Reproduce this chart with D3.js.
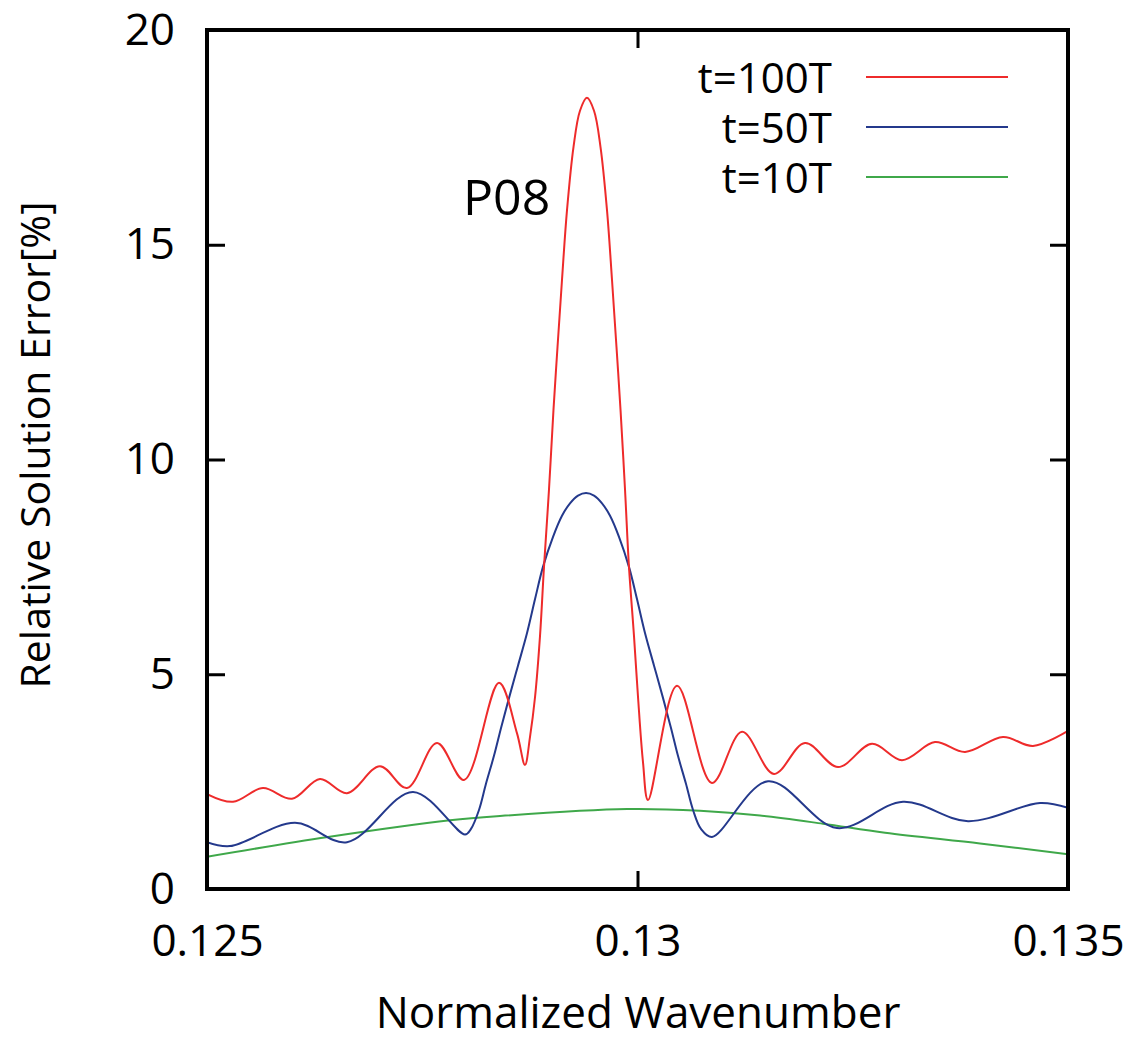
<!DOCTYPE html>
<html>
<head>
<meta charset="utf-8">
<script src="https://cdn.jsdelivr.net/npm/d3@7"></script>
<style>
  html, body { margin: 0; padding: 0; background: #fff; }
  svg { display: block; font-family: "Open Sans", sans-serif; }
</style>
</head>
<body>
<svg id="chart" width="1138" height="1041"></svg>
<script>
// ---- data ----
const xTicks = [0.125, 0.13, 0.135];
const xTickLabels = ["0.125", "0.13", "0.135"];
const yTicks = [0, 5, 10, 15, 20];
const yTickLabels = ["0", "5", "10", "15", "20"];

const seriesNames = ["t=100T", "t=50T", "t=10T"];

const red_x = [0.125, 0.125302, 0.125650, 0.125987, 0.126312, 0.126626, 0.127009, 0.127323, 0.127671, 0.127985,
  0.128391, 0.128600, 0.128693, 0.128752, 0.128810, 0.128868, 0.128914, 0.128972, 0.129024, 0.129071, 0.129123,
  0.129181, 0.129257, 0.129332, 0.129413, 0.129495, 0.129570, 0.129646, 0.129704, 0.129756, 0.129803,
  0.129855, 0.129901, 0.129959, 0.130006, 0.130064, 0.130122, 0.130459, 0.130865,
  0.131214, 0.131585, 0.131945, 0.132329, 0.132724, 0.133072, 0.133455, 0.133804, 0.134245, 0.134593, 0.135];
const red_y = [2.21, 2.03, 2.35, 2.10, 2.56, 2.23, 2.86, 2.35, 3.40, 2.54,
  4.80, 3.63, 2.89, 3.55, 4.47, 5.90, 7.50, 9.30, 11.15, 12.62, 14.18,
  15.80, 17.28, 18.12, 18.42, 18.12, 17.28, 15.80, 14.18, 12.62, 11.15,
  9.30, 7.50, 5.90, 4.47, 2.95, 2.07, 4.73, 2.47,
  3.66, 2.68, 3.40, 2.84, 3.38, 3.00, 3.42, 3.19, 3.54, 3.33, 3.68];

const blue_x = [0.125, 0.125267, 0.126022, 0.126626, 0.127393, 0.127997, 0.128066, 0.128159, 0.128240, 0.128333,
  0.128415, 0.128508, 0.128612, 0.128717, 0.128810, 0.128902, 0.129019, 0.129123, 0.129216, 0.129309,
  0.129402, 0.129495, 0.129588, 0.129681, 0.129785, 0.129901, 0.129994, 0.130087, 0.130192, 0.130296,
  0.130389, 0.130470, 0.130563, 0.130645, 0.130737, 0.130865, 0.131516, 0.132317, 0.133084, 0.133839, 0.134675, 0.135];
const blue_y = [1.09, 1.00, 1.54, 1.09, 2.26, 1.27, 1.40, 1.84, 2.45, 3.10,
  3.75, 4.45, 5.20, 5.96, 6.75, 7.50, 8.20, 8.69, 8.98, 9.16,
  9.22, 9.16, 8.98, 8.69, 8.20, 7.50, 6.75, 5.96, 5.20, 4.45,
  3.75, 3.10, 2.45, 1.84, 1.40, 1.21, 2.51, 1.42, 2.03, 1.58, 2.00, 1.89];

const green_x = [0.125, 0.126405, 0.127822, 0.128403, 0.129878, 0.130726, 0.131423, 0.132154, 0.132875, 0.133978, 0.135];
const green_y = [0.75, 1.21, 1.60, 1.70, 1.86, 1.82, 1.71, 1.52, 1.31, 1.06, 0.81];

const colors = ["#ee2b2b", "#24398c", "#3fa84a"];

// ---- layout ----
const svg = d3.select("#chart");
const margin = { left: 207, top: 30, right: 70, bottom: 152 };
const W = 1138 - margin.left - margin.right;
const H = 1041 - margin.top - margin.bottom;

const x = d3.scaleLinear().domain([0.125, 0.135]).range([0, W]);
const y = d3.scaleLinear().domain([0, 20]).range([H, 0]);

const g = svg.append("g").attr("transform", `translate(${margin.left},${margin.top})`);

g.append("clipPath").attr("id", "clip")
  .append("rect").attr("width", W).attr("height", H);

// ---- axes ----
const tickLen = 18;
const axB = d3.axisBottom(x).tickValues(xTicks).tickFormat((d, i) => xTickLabels[i])
  .tickSizeInner(-tickLen).tickSizeOuter(0).tickPadding(36);
const axT = d3.axisTop(x).tickValues(xTicks).tickFormat("").tickSizeInner(-tickLen).tickSizeOuter(0);
const axL = d3.axisLeft(y).tickValues(yTicks).tickFormat((d, i) => yTickLabels[i])
  .tickSizeInner(-tickLen).tickSizeOuter(0).tickPadding(32);
const axR = d3.axisRight(y).tickValues(yTicks).tickFormat("").tickSizeInner(-tickLen).tickSizeOuter(0);

function styleAxis(sel) {
  sel.select(".domain").remove();
  sel.selectAll(".tick line").attr("stroke", "#000").attr("stroke-width", 3);
  sel.selectAll(".tick text").attr("fill", "#000").style("font-size", "44px")
    .style("font-family", "'Open Sans', sans-serif");
}
g.append("g").attr("transform", `translate(0,${H})`).call(axB).call(styleAxis);
g.append("g").call(axT).call(styleAxis);
g.append("g").call(axL).call(styleAxis);
g.append("g").attr("transform", `translate(${W},0)`).call(axR).call(styleAxis);

// ---- lines ----
const line = d3.line().x(d => x(d[0])).y(d => y(d[1])).curve(d3.curveCatmullRom.alpha(0.5));
const series = [
  d3.zip(red_x, red_y),
  d3.zip(blue_x, blue_y),
  d3.zip(green_x, green_y)
];
const plot = g.append("g").attr("clip-path", "url(#clip)");
[2, 1, 0].forEach(i => {
  plot.append("path").datum(series[i])
    .attr("fill", "none").attr("stroke", colors[i]).attr("stroke-width", 2)
    .attr("d", line);
});

// frame
g.append("rect").attr("width", W).attr("height", H)
  .attr("fill", "none").attr("stroke", "#000").attr("stroke-width", 4);

// ---- legend ----
const legend = g.append("g");
seriesNames.forEach((name, i) => {
  const yy = 47 + i * 50;
  legend.append("text").attr("x", 832 - margin.left).attr("y", yy + 16)
    .attr("text-anchor", "end").style("font-size", "42px").attr("fill", "#000").text(name);
  legend.append("line").attr("x1", 866 - margin.left).attr("x2", 1008 - margin.left)
    .attr("y1", yy).attr("y2", yy).attr("stroke", colors[i]).attr("stroke-width", 2);
});

// annotation
g.append("text").attr("x", 463 - margin.left).attr("y", 215 - margin.top)
  .style("font-size", "50px").attr("fill", "#000").text("P08");

// axis labels
svg.append("text").attr("x", 638).attr("y", 1028).attr("text-anchor", "middle")
  .style("font-size", "44px").attr("fill", "#000").text("Normalized Wavenumber");
svg.append("text").attr("transform", "translate(50,445) rotate(-90)").attr("text-anchor", "middle")
  .style("font-size", "41px").attr("fill", "#000").text("Relative Solution Error[%]");
</script>
</body>
</html>
